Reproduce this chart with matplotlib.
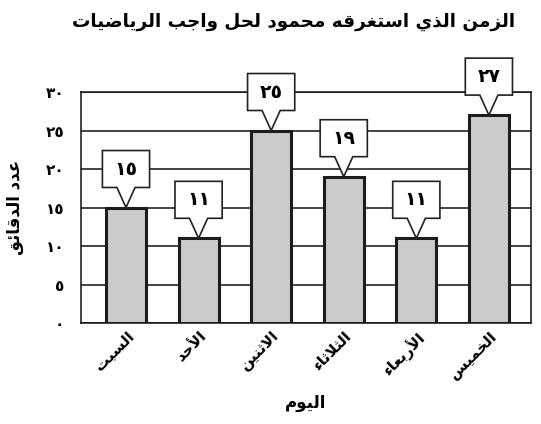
import matplotlib
matplotlib.use('Agg')
import matplotlib.pyplot as plt
from matplotlib.patches import Polygon

plt.rcParams['font.family'] = ['DejaVu Sans']

# البيانات
title = 'الزمن الذي استغرقه محمود لحل واجب الرياضيات'
x_title = 'اليوم'
y_title = 'عدد الدقائق'
days = ['السبت', 'الأحد', 'الاثنين', 'الثلاثاء', 'الأربعاء', 'الخميس']
minutes = [15, 11, 25, 19, 11, 27]
y_ticks = [0, 5, 10, 15, 20, 25, 30]

# أشكال الحروف (Arabic Presentation Forms-B): أول رمز وعدد الأشكال
FORMS = {
    'ء': (0xFE80, 1), 'أ': (0xFE83, 2), 'ئ': (0xFE89, 4), 'ا': (0xFE8D, 2),
    'ب': (0xFE8F, 4), 'ت': (0xFE95, 4), 'ث': (0xFE99, 4), 'ج': (0xFE9D, 4),
    'ح': (0xFEA1, 4), 'خ': (0xFEA5, 4), 'د': (0xFEA9, 2), 'ذ': (0xFEAB, 2),
    'ر': (0xFEAD, 2), 'ز': (0xFEAF, 2), 'س': (0xFEB1, 4), 'ش': (0xFEB5, 4),
    'ض': (0xFEBD, 4), 'ع': (0xFEC9, 4), 'غ': (0xFECD, 4), 'ق': (0xFED5, 4),
    'ل': (0xFEDD, 4), 'م': (0xFEE1, 4), 'ن': (0xFEE5, 4), 'ه': (0xFEE9, 4),
    'و': (0xFEED, 2), 'ي': (0xFEF1, 4),
    'لا': (0xFEFB, 2), 'لأ': (0xFEF7, 2),
}


def ar(s):
    # وصل الحروف ثم عكس الترتيب للعرض
    chars = []
    i = 0
    while i < len(s):
        if s[i] == 'ل' and i + 1 < len(s) and s[i + 1] in 'اأ':
            chars.append(s[i:i + 2])
            i += 2
        else:
            chars.append(s[i])
            i += 1
    out = []
    for i, c in enumerate(chars):
        if c not in FORMS:
            out.append(c)
            continue
        base, n = FORMS[c]
        prev = chars[i - 1] if i > 0 else None
        nxt = chars[i + 1] if i + 1 < len(chars) else None
        jp = n > 1 and prev in FORMS and FORMS[prev][1] == 4
        jn = n == 4 and nxt in FORMS and FORMS[nxt][1] > 1
        k = 3 if (jp and jn) else 1 if jp else 2 if jn else 0
        out.append(chr(base + k))
    return ''.join(out)[::-1]


def ar_num(v):
    return str(v).translate(str.maketrans('0123456789', '٠١٢٣٤٥٦٧٨٩'))


fig = plt.figure(figsize=(5.41, 4.24), dpi=100)
ax = fig.add_axes([0.1497, 0.2382, 0.8318, 0.5448])

x = list(range(len(days)))
ax.bar(x, minutes, width=0.55, color='#c9cbcc', edgecolor='#1c1c1c',
       linewidth=2.2, zorder=3)

ax.set_xlim(-0.62, 5.58)
ax.set_ylim(0, 30)
ax.set_yticks(y_ticks)
ax.set_yticklabels([ar_num(v) for v in y_ticks], fontsize=11, fontweight='bold')
ax.tick_params(axis='y', length=0, pad=12)
ax.tick_params(axis='x', length=0, pad=4)
ax.set_xticks(x)
ax.set_xticklabels([ar(d) for d in days], rotation=45, ha='right', va='top',
                   rotation_mode='anchor', fontsize=11, fontweight='bold')
ax.yaxis.grid(True, color='#111111', linewidth=1.1, zorder=0)
ax.set_axisbelow(True)
for s in ax.spines.values():
    s.set_linewidth(1.1)
    s.set_color('#111111')

# مربعات القيم
bw, bh, gap, pw = 0.65, 4.8, 2.6, 0.25
for xi, v in zip(x, minutes):
    yb = v + gap
    pts = [(xi - bw / 2, yb), (xi - pw / 2, yb), (xi, v), (xi + pw / 2, yb),
           (xi + bw / 2, yb), (xi + bw / 2, yb + bh), (xi - bw / 2, yb + bh)]
    ax.add_patch(Polygon(pts, closed=True, facecolor='white', edgecolor='#222222',
                         linewidth=1.2, zorder=5, clip_on=False))
    ax.text(xi, yb + bh / 2, ar_num(v), ha='center', va='center', fontsize=13.5,
            fontweight='bold', zorder=6)

ax.set_xlabel(ar(x_title), fontsize=12, fontweight='bold', va='center')
ax.xaxis.set_label_coords(0.5, -0.346)
ax.set_ylabel(ar(y_title), fontsize=12, fontweight='bold', va='center')
ax.yaxis.set_label_coords(-0.147, 0.5)

fig.text(0.543, 0.948, ar(title), ha='center', va='center', fontsize=13.2,
         fontweight='bold')

fig.savefig('out.png', dpi=100)
